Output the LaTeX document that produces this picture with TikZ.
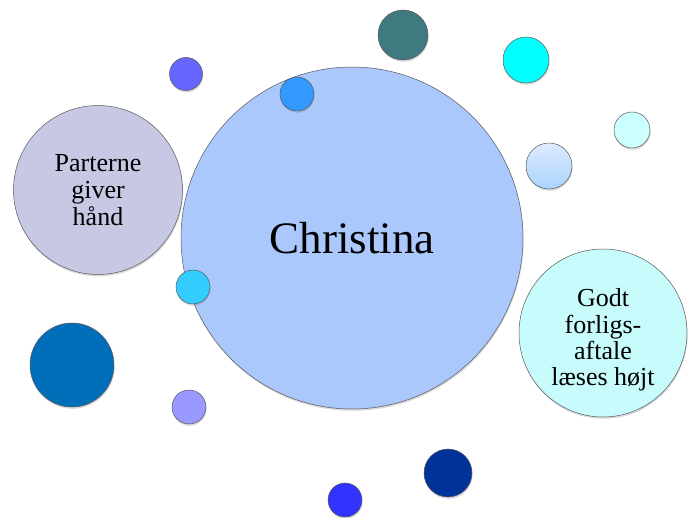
\documentclass[tikz,border=0pt]{standalone}
\usepackage{fontspec}
\setmainfont{Liberation Serif}
\usetikzlibrary{shadows}

\begin{document}
\begin{tikzpicture}[x=1pt,y=-1pt]

% Bubble colours
\definecolor{christinablue}{RGB}{170,200,252}
\definecolor{handgray}{RGB}{198,200,228}
\definecolor{aftalecyan}{RGB}{200,252,252}
\definecolor{dotviolet}{RGB}{102,102,255}
\definecolor{dotblue}{RGB}{51,153,255}
\definecolor{dotteal}{RGB}{63,122,128}
\definecolor{dotcyan}{RGB}{0,255,255}
\definecolor{dotpale}{RGB}{204,255,255}
\definecolor{dotsky}{RGB}{51,204,255}
\definecolor{dotdeep}{RGB}{0,110,185}
\definecolor{dotlilac}{RGB}{153,153,255}
\definecolor{dotnavy}{RGB}{0,51,153}
\definecolor{dotroyal}{RGB}{51,51,255}
\definecolor{gradtop}{RGB}{222,234,255}
\definecolor{gradbottom}{RGB}{170,212,255}

\tikzset{
  bubble/.style={circle, draw=black!65, line width=0.5pt, inner sep=0pt, align=center,
    drop shadow={shadow xshift=0.6pt, shadow yshift=-1.8pt, opacity=0.3}}
}

\useasboundingbox (0,0) rectangle (689,518);

% Main bubble
\node[bubble, fill=christinablue, minimum size=342pt,
  font=\fontsize{45}{50}\selectfont] (christina) at (352,238) {Christina};

% Side bubbles with text
\node[bubble, fill=handgray, minimum size=169pt,
  font=\fontsize{26}{27}\selectfont] (hand) at (98,190) {Parterne\\giver\\hånd};
\node[bubble, fill=aftalecyan, minimum size=168pt] (aftale) at (603,333) {};
\node[align=center, font=\fontsize{26}{26.5}\selectfont] (aftaletext) at (603,340)
  {Godt\\forligs-\\aftale\\læses højt};

% Small bubbles
\foreach \nm/\cx/\cy/\d/\col in {
  violet/186/74/33pt/dotviolet,
  blue/297/94/34pt/dotblue,
  teal/403/35/50pt/dotteal,
  cyan/526/60/46pt/dotcyan,
  pale/632/130/36pt/dotpale,
  sky/193/287/34pt/dotsky,
  deep/72/365/84pt/dotdeep,
  lilac/189/407/34pt/dotlilac,
  navy/448/473/48pt/dotnavy,
  royal/345/500/34pt/dotroyal} {
  \node[bubble, fill=\col, minimum size=\d] (\nm) at (\cx,\cy) {};
}

% Shaded bubble
\node[bubble, top color=gradtop, bottom color=gradbottom, minimum size=46pt] (shaded) at (549,166) {};

\end{tikzpicture}
\end{document}
